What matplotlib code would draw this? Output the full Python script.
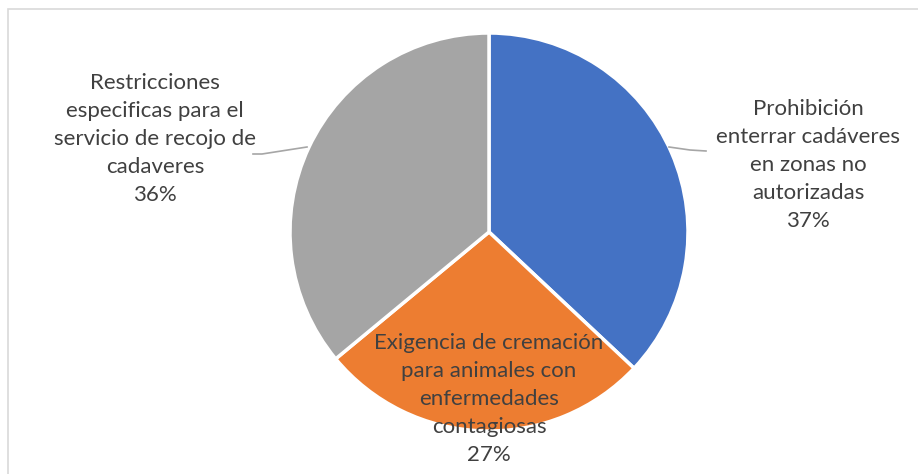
import matplotlib.pyplot as plt
from matplotlib.patches import Rectangle

labels = ['Prohibición\nenterrar cadáveres\nen zonas no\nautorizadas',
          'Exigencia de cremación\npara animales con\nenfermedades\ncontagiosas',
          'Restricciones\nespecificas para el\nservicio de recojo de\ncadaveres']
values = [37, 27, 36]
colors = ['#4472C4', '#ED7D31', '#A5A5A5']

W, H = 918, 474
fig = plt.figure(figsize=(W / 100, H / 100), dpi=100)
ax = fig.add_axes([0, 0, 1, 1])


def py(y):
    # pixel row (from top) -> data y
    return H - y


ax.add_patch(Rectangle((8, py(H + 5)), W + 10, H - 4, fill=False,
                       edgecolor='#d9d9d9', linewidth=1.2))

ax.pie(values, colors=colors, startangle=90, counterclock=False,
       center=(489, py(232)), radius=199, frame=True,
       wedgeprops=dict(edgecolor='white', linewidth=2.5))
ax.set_xlim(0, W)
ax.set_ylim(0, H)
ax.axis('off')

txt = dict(ha='center', va='center', fontsize=16, color='#404040',
           family=['Lato', 'DejaVu Sans'], linespacing=1.5)
pct = [f'{v}%' for v in values]
ax.text(808, py(165), labels[0] + '\n' + pct[0], **txt)
ax.text(489, py(399), labels[1] + '\n' + pct[1], **txt)
ax.text(155, py(139), labels[2] + '\n' + pct[2], **txt)

lc = dict(color='#a6a6a6', linewidth=1.2)
ax.plot([669, 690, 706], [py(147), py(150), py(151)], **lc)
ax.plot([307, 262, 253], [py(147), py(154), py(154)], **lc)

fig.savefig('out.png', dpi=100)
